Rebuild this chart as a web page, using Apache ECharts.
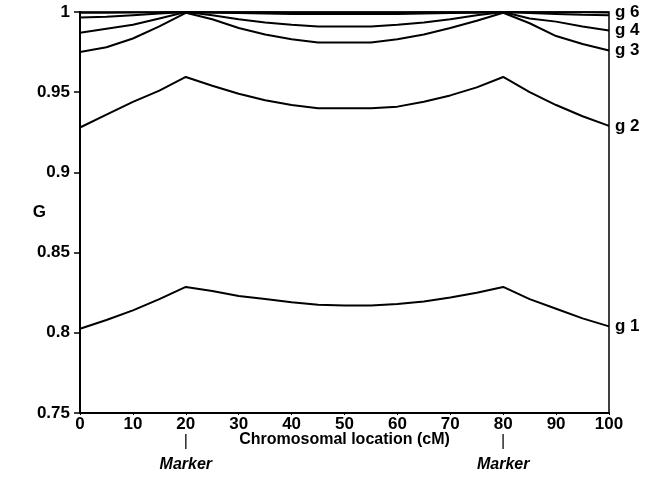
<!DOCTYPE html>
<html>
<head>
<meta charset="utf-8">
<script src="https://cdn.jsdelivr.net/npm/echarts@6/dist/echarts.min.js"></script>
<style>
  html, body { margin: 0; padding: 0; background: #fff; }
  #main { width: 654px; height: 484px; }
</style>
</head>
<body>
<div id="main"></div>
<script>
// chromosomal location (cM)
var xs = [0, 5, 10, 15, 20, 25, 30, 35, 40, 45, 50, 55, 60, 65, 70, 75, 80, 85, 90, 95, 100];
// G values
var g1 = [0.8025, 0.808, 0.814, 0.821, 0.8286, 0.826, 0.823, 0.821, 0.819, 0.8175, 0.817, 0.817, 0.818, 0.8195, 0.822, 0.825, 0.8286, 0.821, 0.815, 0.809, 0.804];
var g2 = [0.928, 0.936, 0.944, 0.951, 0.9595, 0.954, 0.949, 0.945, 0.942, 0.940, 0.940, 0.940, 0.941, 0.944, 0.948, 0.953, 0.9595, 0.950, 0.942, 0.935, 0.929];
var g3 = [0.975, 0.978, 0.9835, 0.991, 0.9995, 0.9955, 0.990, 0.986, 0.983, 0.981, 0.981, 0.981, 0.983, 0.986, 0.990, 0.9945, 0.9995, 0.993, 0.985, 0.980, 0.976];
var g4 = [0.987, 0.9895, 0.992, 0.996, 1.0, 0.998, 0.9955, 0.9935, 0.992, 0.991, 0.991, 0.991, 0.992, 0.9935, 0.9955, 0.998, 1.0, 0.996, 0.994, 0.991, 0.9885];
var g5 = [0.9965, 0.997, 0.998, 0.999, 1.0, 0.9996, 0.9993, 0.999, 0.9988, 0.9987, 0.9987, 0.9987, 0.9988, 0.999, 0.9993, 0.9996, 1.0, 0.9993, 0.9988, 0.9983, 0.998];
var g6 = [0.9995, 0.9996, 0.9997, 0.9998, 1.0, 0.9999, 0.9998, 0.9998, 0.9997, 0.9997, 0.9997, 0.9997, 0.9997, 0.9998, 0.9998, 0.9999, 1.0, 0.9999, 0.9998, 0.9998, 0.9997];
var curves = [
  { name: 'g 1', values: g1 },
  { name: 'g 2', values: g2 },
  { name: 'g 3', values: g3 },
  { name: 'g 4', values: g4 },
  { name: '', values: g5 },
  { name: 'g 6', values: g6 }
];
var markerAt = [20, 80];

var font = 'Liberation Sans, Arial, sans-serif';
var chart = echarts.init(document.getElementById('main'));

chart.setOption({
  animation: false,
  backgroundColor: '#fff',
  textStyle: { fontFamily: font, color: '#000' },
  grid: {
    left: 80, right: 45, top: 12, bottom: 71,
    outerBoundsMode: 'none', containLabel: false,
    show: true, borderColor: '#000', borderWidth: 1.5
  },
  xAxis: {
    type: 'value', min: 0, max: 100, interval: 10,
    name: 'Chromosomal location (cM)', nameLocation: 'middle', nameGap: 19,
    nameMoveOverlap: false,
    nameTextStyle: { fontSize: 16, fontWeight: 'bold', color: '#000', fontFamily: font },
    axisLine: { lineStyle: { color: '#000', width: 2 } },
    axisTick: { length: 2, lineStyle: { color: '#000' } },
    splitLine: { show: false },
    axisLabel: {
      margin: 3, color: '#000', fontFamily: font,
      formatter: function (v) {
        if (markerAt.indexOf(v) >= 0) return '{n|' + v + '}\n{b||}\n{m|Marker}';
        return '{n|' + v + '}';
      },
      rich: {
        n: { fontSize: 17, lineHeight: 17, fontWeight: 'bold', color: '#000', fontFamily: font },
        b: { fontSize: 16, lineHeight: 18, color: '#000', fontFamily: font },
        m: { fontSize: 16, lineHeight: 28, fontStyle: 'italic', fontWeight: 'bold', color: '#000', fontFamily: font }
      }
    }
  },
  yAxis: {
    type: 'value', min: 0.75, max: 1, interval: 0.05,
    name: 'G', nameLocation: 'middle', nameRotate: 0, nameGap: 34,
    nameMoveOverlap: false,
    nameTextStyle: { fontSize: 17, fontWeight: 'bold', color: '#000', fontFamily: font },
    axisLine: { show: true, lineStyle: { color: '#000', width: 2 } },
    axisTick: { show: true, length: 6, lineStyle: { color: '#000', width: 1.5 } },
    splitLine: { show: false },
    axisLabel: { fontSize: 17, fontWeight: 'bold', color: '#000', margin: 10, fontFamily: font }
  },
  series: curves.map(function (c) {
    return {
      type: 'line',
      symbol: 'none',
      data: xs.map(function (x, i) { return [x, c.values[i]]; }),
      lineStyle: { color: '#000', width: 2 },
      endLabel: {
        show: c.name !== '',
        formatter: c.name,
        distance: 6,
        fontSize: 17,
        fontWeight: 'bold',
        color: '#000',
        fontFamily: font
      }
    };
  })
});
</script>
</body>
</html>
